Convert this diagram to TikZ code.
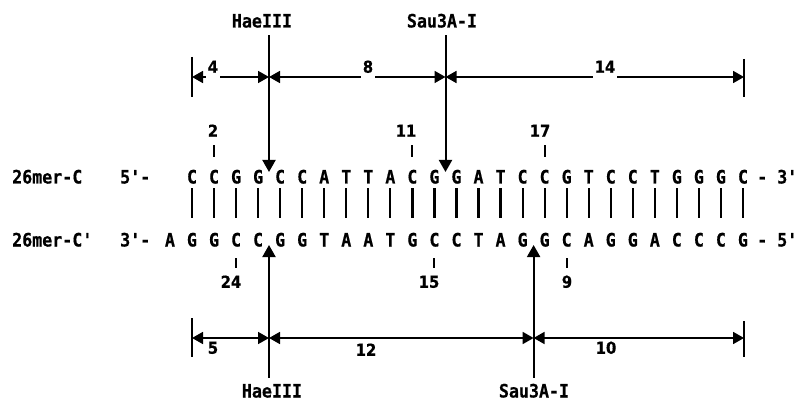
\documentclass[tikz,border=0pt]{standalone}
\usepackage{fontspec}
\newfontfamily\dnafont{DejaVu Sans Mono}[FakeStretch=0.9,Ligatures=TeXOff,BoldFeatures={FakeBold=0.6}]
\newfontfamily\numfont{DejaVu Sans}[FakeStretch=0.9,BoldFeatures={FakeBold=0.4}]
\usetikzlibrary{arrows.meta}
\begin{document}
\begin{tikzpicture}[x=1pt,y=-1pt,
  lab/.style={font=\dnafont\bfseries\fontsize{18.5}{20}\selectfont, inner sep=0pt, text height=13pt, text depth=0pt},
  num/.style={font=\numfont\bfseries\fontsize{16.5}{18}\selectfont, inner sep=0pt, text height=11.5pt, text depth=0pt},
  pair/.style={line width=2.2pt, shorten <=4.5pt, shorten >=15pt},
  tick/.style={line width=2pt},
  cut/.style={line width=2pt, -{Triangle[length=12pt,width=13pt]}},
  dim/.style={line width=1.8pt, {Triangle[length=11pt,width=12pt]}-{Triangle[length=11pt,width=12pt]}},
  endbar/.style={line width=2.2pt},
  gap/.style={num, fill=white, inner xsep=1.5pt, inner ysep=6pt}]
\useasboundingbox (0,0) rectangle (801,401);

% strand labels
\node[lab, anchor=west] (nC)  at (12,177) {26mer-C};
\node[lab, anchor=west] (p5)  at (120,177) {5'-};
\node[lab, anchor=west] (e3)  at (757,177) {- 3'};
\node[lab, anchor=west] (nCp) at (12,240) {26mer-C'};
\node[lab, anchor=west] (p3)  at (120,240) {3'-};
\node[lab, anchor=west] (e5)  at (757,240) {- 5'};

% bases
\foreach \b [count=\i from 0] in {C,C,G,G,C,C,A,T,T,A,C,G,G,A,T,C,C,G,T,C,C,T,G,G,G,C}
  \node[lab] (t\i) at (192+22.04*\i,177) {\b};
\foreach \b [count=\i from -1] in {A,G,G,C,C,G,G,T,A,A,T,G,C,C,T,A,G,G,C,A,G,G,A,C,C,C,G}
  \node[lab] (b\i) at (192+22.04*\i,240) {\b};
\foreach \i in {0,...,25}
  \draw[pair] (t\i) -- (b\i);

% position numbers
\node[num] (l2)  at (213,131) {2};
\node[num] (l11) at (406,131) {11};
\node[num] (l17) at (540,131) {17};
\draw[tick, shorten <=13.5pt, shorten >=14pt] (t1) -- (t1 |- l2);
\draw[tick, shorten <=13.5pt, shorten >=14pt] (t10) -- (t10 |- l11);
\draw[tick, shorten <=13.5pt, shorten >=14pt] (t16) -- (t16 |- l17);
\node[num] (l24) at (231,282) {24};
\node[num] (l15) at (429,282) {15};
\node[num] (l9)  at (567,282) {9};
\draw[tick, shorten <=11.5pt, shorten >=14pt] (b2) -- (b2 |- l24);
\draw[tick, shorten <=11.5pt, shorten >=14pt] (b11) -- (b11 |- l15);
\draw[tick, shorten <=11.5pt, shorten >=14pt] (b17) -- (b17 |- l9);

% cut sites
\coordinate (cHt) at (269,172);
\coordinate (cSt) at (445.5,172);
\coordinate (cHb) at (269,245);
\coordinate (cSb) at (533.6,245);
\node[lab] (hTop) at (262,21) {HaeIII};
\node[lab] (sTop) at (442,21) {Sau3A-I};
\node[lab] (hBot) at (272,391) {HaeIII};
\node[lab] (sBot) at (534,391) {Sau3A-I};
\draw[cut, shorten <=7.5pt] (cHt |- hTop.south) -- (cHt);
\draw[cut, shorten <=7.5pt] (cSt |- sTop.south) -- (cSt);
\draw[cut, shorten <=6.5pt] (cHb |- hBot.north) -- (cHb);
\draw[cut, shorten <=6.5pt] (cSb |- sBot.north) -- (cSb);

% top dimension line
\coordinate (dTL) at (192,77);
\coordinate (dTR) at (744,77);
\draw[endbar] ([yshift=20pt]dTL) -- ([yshift=-20pt]dTL);
\draw[endbar] ([yshift=18pt]dTR) -- ([yshift=-20pt]dTR);
\draw[dim] (dTL) -- (cHt |- dTL);
\draw[dim] (cHt |- dTL) -- (cSt |- dTL);
\draw[dim] (cSt |- dTL) -- (dTR);
\node[gap] (d4)  at (213,67) {4};
\node[gap] (d8)  at (368,67) {8};
\node[gap] (d14) at (605,67) {14};

% bottom dimension line
\coordinate (dBL) at (192,338);
\coordinate (dBR) at (744,338);
\draw[endbar] ([yshift=20pt]dBL) -- ([yshift=-19pt]dBL);
\draw[endbar] ([yshift=17pt]dBR) -- ([yshift=-19pt]dBR);
\draw[dim] (dBL) -- (cHb |- dBL);
\draw[dim] (cHb |- dBL) -- (cSb |- dBL);
\draw[dim] (cSb |- dBL) -- (dBR);
\node[num] (d5)  at (213,348) {5};
\node[num] (d12) at (366,350) {12};
\node[num] (d10) at (606,348) {10};
\end{tikzpicture}
\end{document}
